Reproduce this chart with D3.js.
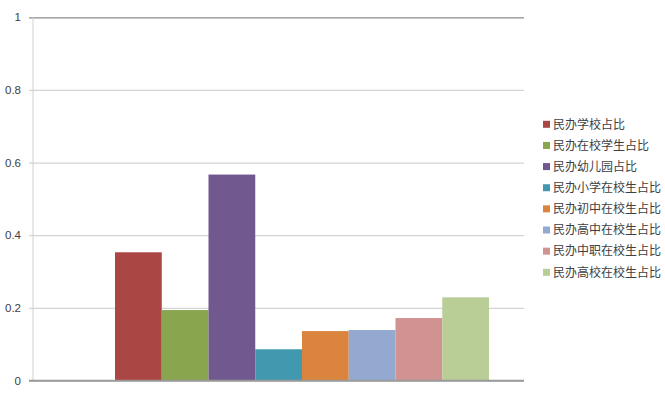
<!DOCTYPE html>
<html>
<head>
<meta charset="utf-8">
<script src="https://cdn.jsdelivr.net/npm/d3@7"></script>
<style>
  html, body { margin: 0; padding: 0; background: #fff; }
  svg { display: block; }
</style>
</head>
<body>
<div id="chart"></div>
<script>
const seriesNames = ["民办学校占比", "民办在校学生占比", "民办幼儿园占比", "民办小学在校生占比",
                     "民办初中在校生占比", "民办高中在校生占比", "民办中职在校生占比", "民办高校在校生占比"];
const seriesValues = [0.353, 0.194, 0.567, 0.086, 0.136, 0.139, 0.172, 0.229];
const seriesColors = ["#AA4643", "#89A54E", "#71588F", "#4198AF", "#DB843D", "#93A9CF", "#D19392", "#B9CD96"];
const yTicks = [0, 0.2, 0.4, 0.6, 0.8, 1];
const categories = [""];

(function () {
const W = 665, H = 406;
const pLeft = 33, pRight = 524, pTop = 17.3, pBottom = 380.5;

const svg = d3.select("#chart").append("svg").attr("width", W).attr("height", H);

const y = d3.scaleLinear().domain([0, 1]).range([pBottom, pTop]);
const x0 = d3.scaleBand().domain(categories).range([pLeft, pRight]).paddingInner(0).paddingOuter(0);
const padL = 82, padR = 35;
const x1 = d3.scaleBand().domain(d3.range(seriesValues.length))
  .range([x0("") + padL, x0("") + x0.bandwidth() - padR]).padding(0);

// gridlines
const gAxis = svg.append("g").attr("transform", `translate(${pRight},0)`);
gAxis.call(d3.axisLeft(y).tickValues(yTicks).tickSize(pRight - pLeft + 4).tickFormat(""));
gAxis.select(".domain").remove();
gAxis.selectAll(".tick line").attr("stroke", d => d === 1 ? "#8a8a8a" : (d === 0 ? "#9a9a9a" : "#d4d4d4"))
  .attr("stroke-width", 1.3);

// labels
const gLab = svg.append("g").attr("transform", `translate(${pLeft},0)`);
gLab.call(d3.axisLeft(y).tickValues(yTicks).tickSize(0).tickPadding(12).tickFormat(d => d3.format("~g")(d)));
gLab.select(".domain").remove();
gLab.selectAll("text").attr("fill", "#404040").attr("font-size", 11.5)
  .attr("font-family", "'Liberation Sans', Arial, sans-serif");

// vertical axis line
svg.append("line").attr("x1", pLeft).attr("x2", pLeft).attr("y1", pTop).attr("y2", pBottom)
  .attr("stroke", "#d0d0d0").attr("stroke-width", 1);

// bars
svg.append("g").selectAll("rect").data(seriesValues).join("rect")
  .attr("x", (d, i) => x1(i))
  .attr("width", x1.bandwidth())
  .attr("y", d => y(d))
  .attr("height", d => y(0) - y(d))
  .attr("fill", (d, i) => seriesColors[i]);

// bottom axis line on top
svg.append("line").attr("x1", pLeft - 4).attr("x2", pRight).attr("y1", y(0)).attr("y2", y(0))
  .attr("stroke", "#9a9a9a").attr("stroke-width", 1.3);

// legend
const leg = svg.append("g");
const legY = d3.scalePoint().domain(d3.range(seriesNames.length)).range([124.3, 272.3]);
const items = leg.selectAll("g").data(seriesNames).join("g")
  .attr("transform", (d, i) => `translate(543,${legY(i)})`);
items.append("rect").attr("x", 0).attr("y", -3.5).attr("width", 7).attr("height", 7)
  .attr("fill", (d, i) => seriesColors[i]);
items.append("text").attr("x", 10).attr("y", 0).attr("dy", "0.35em")
  .attr("font-size", 12).attr("fill", "#404040")
  .attr("font-family", "'Noto Sans CJK SC', sans-serif")
  .text(d => d);
})();
</script>
</body>
</html>
